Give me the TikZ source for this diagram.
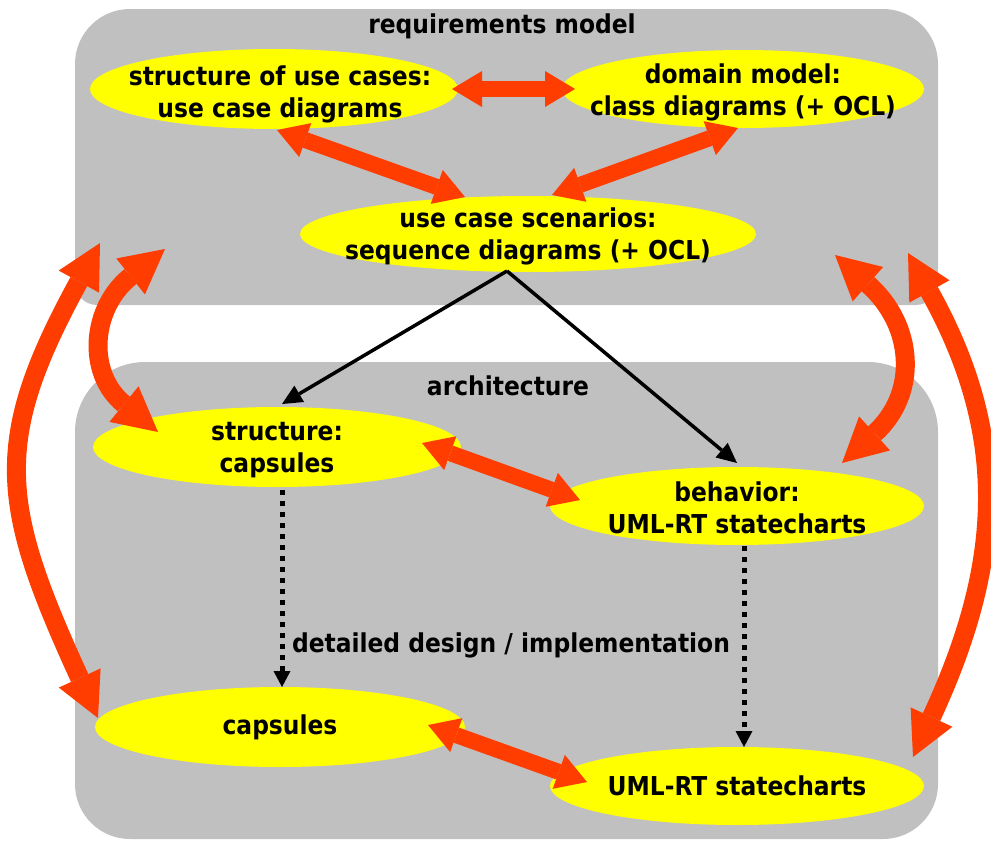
\documentclass[tikz,border=0pt]{standalone}
\usepackage{fontspec}
\setmainfont{DejaVu Sans Condensed}
\usetikzlibrary{arrows.meta,shapes.geometric,calc}

\definecolor{boxgray}{RGB}{192,192,192}
\definecolor{hilite}{RGB}{255,255,0}
\definecolor{linkred}{RGB}{255,61,0}

\begin{document}
\begin{tikzpicture}[x=1pt,y=-1pt,
  artifact/.style={ellipse, fill=hilite, inner sep=0pt},
  caption/.style={inner sep=0pt, align=center, font=\bfseries\fontsize{26}{32}\selectfont},
  heading/.style={inner sep=0pt, font=\bfseries\fontsize{26}{30}\selectfont},
  link/.style={draw=linkred, line width=16pt,
    {Triangle[length=30pt,width=36pt,line width=0pt]}-{Triangle[length=30pt,width=36pt,line width=0pt]}},
  looplink/.style={draw=linkred, line width=19pt,
    {Triangle[length=44pt,width=46pt,line width=0pt]}-{Triangle[length=44pt,width=46pt,line width=0pt]}},
  flow/.style={draw=black, line width=3.5pt, -{Triangle[length=20pt,width=19pt,line width=0pt]}},
  refine/.style={draw=black, line width=5pt, dash pattern=on 5pt off 6pt,
    -{Triangle[length=16pt,width=17pt,line width=0pt]}}
]
\useasboundingbox (0,0) rectangle (991,841);

% the two model areas
\fill[boxgray] (75,160) [rounded corners=55pt] -- (75,9) -- (938,9) -- (938,160)
  [rounded corners=22pt] -- (938,305) -- (75,305) -- cycle;
\fill[boxgray] (75,600) [rounded corners=70pt] -- (75,362) -- (938,362) -- (938,600)
  [rounded corners=55pt] -- (938,839) -- (75,839) -- cycle;

\node[heading] (reqtitle) at (502,26) {requirements model};
\node[heading] (archtitle) at (508,386) {architecture};

% artifacts
\node[artifact, minimum width=368pt, minimum height=80pt] (usecases) at (274,89) {};
\node[artifact, minimum width=362pt, minimum height=78pt] (domain) at (743,89) {};
\node[artifact, minimum width=456pt, minimum height=76pt] (scenarios) at (528,234) {};
\node[artifact, minimum width=368pt, minimum height=80pt] (structure) at (277,447) {};
\node[artifact, minimum width=374pt, minimum height=78pt] (behavior) at (737,506) {};
\node[artifact, minimum width=370pt, minimum height=80pt] (capsules) at (280,727) {};
\node[artifact, minimum width=374pt, minimum height=78pt] (statecharts) at (737,786) {};

\node[caption] (usecasesText) at ($(usecases)+(6,5)$) {structure of use cases:\\use case diagrams};
\node[caption] (domainText) at ($(domain)+(0,3)$) {domain model:\\class diagrams (+ OCL)};
\node[caption] (scenariosText) at ($(scenarios)+(0,2)$) {use case scenarios:\\sequence diagrams (+ OCL)};
\node[caption] (structureText) at ($(structure)+(0,3)$) {structure:\\capsules};
\node[caption] (behaviorText) at ($(behavior)+(0,2)$) {behavior:\\UML-RT statecharts};
\node[caption] (capsulesText) at ($(capsules)+(0,0)$) {capsules};
\node[caption] (statechartsText) at ($(statecharts)+(0,0)$) {UML-RT statecharts};

% derivation of the architecture from the scenarios
\draw[flow] ($(scenarios)+(-21,37)$) -- ($(structure)+(5,-43)$);
\draw[flow] ($(scenarios)+(-21,37)$) -- ($(behavior)+(0,-43)$);

% refinement into the detailed design
\draw[refine] ($(structure)+(5,43)$) -- ($(capsules)+(2,-40)$);
\draw[refine] ($(behavior)+(7,40)$) -- ($(statecharts)+(7,-39)$);
\node[heading] (refineText) at (511,645) {detailed design / implementation};

% consistency links inside the models
\draw[link] ($(usecases)+(178,0)$) -- ($(domain)+(-168,0)$);
\draw[link] ($(usecases)+(3,41)$) -- ($(scenarios)+(-63,-37)$);
\draw[link] ($(domain)+(-5,39)$) -- ($(scenarios)+(24,-39)$);
\draw[link] ($(structure)+(145,-4)$) -- ($(behavior)+(-157,-6)$);
\draw[link] ($(capsules)+(148,-2)$) -- ($(statecharts)+(-150,-4)$);

% consistency links between requirements and design
\coordinate (reqOuterL) at (100,243);
\coordinate (reqInnerL) at (165,249);
\coordinate (reqInnerR) at (835,255);
\coordinate (reqOuterR) at (908,253);
\draw[looplink] (reqOuterL) .. controls (-9,442) and (0,504) .. ($(capsules)+(-182,-9)$);
\draw[looplink] (reqInnerL) .. controls (91,308) and (86,373) .. ($(structure)+(-119,-15)$);
\draw[looplink] (reqInnerR) .. controls (914,325) and (919,393) .. ($(behavior)+(105,-43)$);
\draw[looplink] (reqOuterR) .. controls (1011,438) and (1002,565) .. ($(statecharts)+(176,-29)$);
\end{tikzpicture}
\end{document}
